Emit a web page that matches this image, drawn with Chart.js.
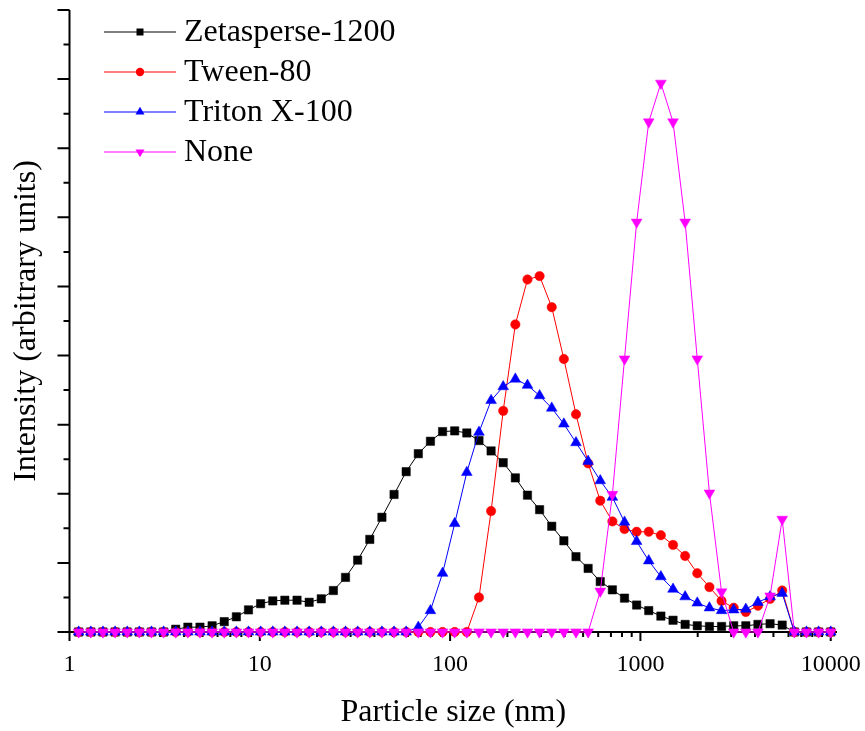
<!DOCTYPE html>
<html>
<head>
<meta charset="utf-8">
<script src="https://cdn.jsdelivr.net/npm/chart.js@4.4.1/dist/chart.umd.min.js"></script>
<style>
  html, body { margin: 0; padding: 0; background: #fff; }
  #wrap { width: 865px; height: 731px; }
</style>
</head>
<body>
<div id="wrap"><canvas id="myChart" width="865" height="731"></canvas></div>
<script>
// particle size bins (nm)
const sizes = [
  1.117, 1.294, 1.499, 1.736, 2.010, 2.328, 2.696, 3.122, 3.615, 4.187,
  4.849, 5.615, 6.503, 7.531, 8.721, 10.10, 11.70, 13.54, 15.69, 18.17,
  21.04, 24.36, 28.21, 32.67, 37.84, 43.82, 50.75, 58.77, 68.06, 78.82,
  91.28, 105.7, 122.4, 141.8, 164.2, 190.1, 220.2, 255.0, 295.3, 342.0,
  396.1, 458.7, 531.2, 615.1, 712.4, 825.0, 955.4, 1106, 1281, 1484,
  1718, 1990, 2305, 2669, 3091, 3580, 4145, 4801, 5560, 6439,
  7456, 8635, 10000
];

const zetasperse = [
  0, 0, 0, 0, 0, 0, 0, 0, 0.04, 0.07,
  0.07, 0.09, 0.15, 0.22, 0.32, 0.41, 0.45, 0.46, 0.46, 0.43,
  0.48, 0.60, 0.79, 1.04, 1.34, 1.66, 1.99, 2.32, 2.58, 2.76,
  2.90, 2.91, 2.88, 2.77, 2.62, 2.45, 2.23, 1.98, 1.77, 1.53,
  1.32, 1.09, 0.92, 0.73, 0.61, 0.49, 0.39, 0.31, 0.23, 0.17,
  0.11, 0.09, 0.08, 0.08, 0.09, 0.09, 0.11, 0.12, 0.10, 0,
  0, 0, 0
];

const tween80 = [
  0, 0, 0, 0, 0, 0, 0, 0, 0, 0,
  0, 0, 0, 0, 0, 0, 0, 0, 0, 0,
  0, 0, 0, 0, 0, 0, 0, 0, 0, 0,
  0, 0, 0, 0.50, 1.75, 3.20, 4.45, 5.10, 5.15, 4.70,
  3.95, 3.15, 2.44, 1.90, 1.60, 1.49, 1.45, 1.45, 1.40, 1.26,
  1.10, 0.85, 0.65, 0.45, 0.35, 0.29, 0.38, 0.48, 0.60, 0,
  0, 0, 0
];

const triton = [
  0, 0, 0, 0, 0, 0, 0, 0, 0, 0,
  0, 0, 0, 0, 0, 0, 0, 0, 0, 0,
  0, 0, 0, 0, 0, 0, 0, 0, 0.07, 0.31,
  0.85, 1.57, 2.31, 2.89, 3.35, 3.55, 3.66, 3.57, 3.42, 3.24,
  3.01, 2.74, 2.47, 2.19, 1.95, 1.59, 1.31, 1.03, 0.80, 0.62,
  0.51, 0.42, 0.35, 0.31, 0.32, 0.33, 0.43, 0.51, 0.56, 0,
  0, 0, 0
];

const none = [
  0, 0, 0, 0, 0, 0, 0, 0, 0, 0,
  0, 0, 0, 0, 0, 0, 0, 0, 0, 0,
  0, 0, 0, 0, 0, 0, 0, 0, 0, 0,
  0, 0, 0, 0, 0, 0, 0, 0, 0, 0,
  0, 0, 0, 0.59, 1.99, 3.95, 5.93, 7.38, 7.94, 7.38,
  5.93, 3.95, 2.01, 0.58, 0, 0, 0, 0.52, 1.63, 0,
  0, 0, 0
];

const xMajor = [1, 10, 100, 1000, 10000];
const yMajor = [0, 1, 2, 3, 4, 5, 6, 7, 8, 9];

const FONT = "'Liberation Serif', 'Times New Roman', serif";

const series = [
  { label: 'Zetasperse-1200', data: zetasperse, color: '#000000', style: 'rect', radius: 5.9, rot: 0 },
  { label: 'Tween-80', data: tween80, color: '#ff0000', style: 'circle', radius: 4.7, rot: 0 },
  { label: 'Triton X-100', data: triton, color: '#0000ff', style: 'triangle', radius: 6.2, rot: 0 },
  { label: 'None', data: none, color: '#ff00ff', style: 'triangle', radius: 6.2, rot: 180 }
];

const toPoints = arr => arr.map((v, i) => ({ x: sizes[i], y: v }));

// axes with Origin style major / minor ticks, drawn under the data
const axesPlugin = {
  id: 'originAxes',
  beforeDatasetsDraw(chart) {
    const { ctx, chartArea: a, scales: { x, y } } = chart;
    ctx.save();
    ctx.strokeStyle = '#000';
    ctx.lineWidth = 2;
    ctx.beginPath();
    ctx.moveTo(a.left, a.top);
    ctx.lineTo(a.left, a.bottom);
    ctx.lineTo(a.right, a.bottom);
    ctx.stroke();

    ctx.beginPath();
    yMajor.forEach(v => {
      const p = y.getPixelForValue(v);
      ctx.moveTo(a.left, p); ctx.lineTo(a.left - 12, p);
      if (v < 9) {
        const m = y.getPixelForValue(v + 0.5);
        ctx.moveTo(a.left, m); ctx.lineTo(a.left - 6, m);
      }
    });
    xMajor.forEach(v => {
      const p = x.getPixelForValue(v);
      ctx.moveTo(p, a.bottom); ctx.lineTo(p, a.bottom + 9);
      if (v < 10000) {
        for (let k = 2; k < 10; k++) {
          const m = x.getPixelForValue(v * k);
          ctx.moveTo(m, a.bottom); ctx.lineTo(m, a.bottom + 5);
        }
      }
    });
    ctx.stroke();
    ctx.restore();
  }
};

function marker(ctx, s, cx, cy) {
  ctx.fillStyle = s.color;
  ctx.beginPath();
  if (s.style === 'rect') {
    ctx.rect(cx - 3.5, cy - 3.5, 7, 7);
  } else if (s.style === 'circle') {
    ctx.arc(cx, cy, 4.2, 0, Math.PI * 2);
  } else {
    const r = 5.2, d = s.rot ? -1 : 1;
    ctx.moveTo(cx, cy - d * r);
    ctx.lineTo(cx + r * 0.866, cy + d * r * 0.5);
    ctx.lineTo(cx - r * 0.866, cy + d * r * 0.5);
    ctx.closePath();
  }
  ctx.fill();
}

const legendPlugin = {
  id: 'insideLegend',
  afterDraw(chart) {
    const { ctx } = chart;
    ctx.save();
    ctx.font = '32px ' + FONT;
    ctx.textBaseline = 'middle';
    ctx.textAlign = 'left';
    series.forEach((s, i) => {
      const yy = 32 + i * 40;
      ctx.strokeStyle = s.color;
      ctx.lineWidth = 1.2;
      ctx.beginPath();
      ctx.moveTo(104, yy); ctx.lineTo(176, yy);
      ctx.stroke();
      marker(ctx, s, 140, yy);
      ctx.fillStyle = '#000';
      ctx.fillText(s.label, 184, yy + 1);
    });
    ctx.restore();
  }
};

Chart.defaults.font.family = FONT;
Chart.defaults.color = '#000';

const ctx = document.getElementById('myChart').getContext('2d');
new Chart(ctx, {
  type: 'line',
  data: {
    datasets: series.map((s, i) => ({
      label: s.label,
      data: toPoints(s.data),
      borderColor: s.color,
      backgroundColor: s.color,
      borderWidth: 1,
      pointStyle: s.style,
      pointRadius: s.radius,
      pointRotation: s.rot,
      pointBorderWidth: 0.5,
      pointBorderColor: s.color,
      pointBackgroundColor: s.color,
      tension: 0,
      clip: false,
      order: 4 - i
    }))
  },
  options: {
    responsive: false,
    animation: false,
    devicePixelRatio: 1,
    layout: { padding: { top: 10, right: 28, left: 0, bottom: 0 } },
    plugins: {
      legend: { display: false },
      tooltip: { enabled: false }
    },
    scales: {
      x: {
        type: 'logarithmic',
        min: 1,
        max: 10790,
        grid: { display: false, drawTicks: false },
        border: { display: false },
        afterBuildTicks: s => { s.ticks = xMajor.map(v => ({ value: v })); },
        afterFit: s => {
          s.height = 99;
          s.paddingLeft = 0;
          s.paddingRight = 0;
        },
        ticks: {
          autoSkip: false,
          maxRotation: 0,
          padding: 21,
          font: { size: 24, lineHeight: 1 },
          callback: v => String(v)
        },
        title: {
          display: true,
          text: 'Particle size (nm)',
          font: { size: 32, lineHeight: 1 },
          padding: { top: 0, bottom: 2 }
        }
      },
      y: {
        min: 0,
        max: 9,
        grid: { display: false, drawTicks: false },
        border: { display: false },
        ticks: { display: false, stepSize: 1 },
        afterFit: s => {
          s.width = 69.5;
          s.paddingTop = 0;
          s.paddingBottom = 0;
        },
        title: {
          display: true,
          text: 'Intensity (arbitrary units)',
          font: { size: 32, lineHeight: 1 },
          padding: { top: 11, bottom: 0 }
        }
      }
    }
  },
  plugins: [axesPlugin, legendPlugin]
});
</script>
</body>
</html>
